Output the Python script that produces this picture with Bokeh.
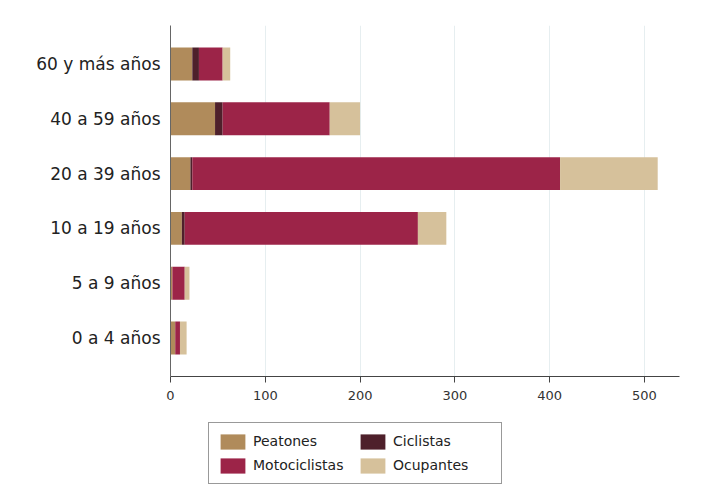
from bokeh.plotting import figure
from bokeh.layouts import column
from bokeh.models import FactorRange, Legend, LegendItem, SingleIntervalTicker, ColumnDataSource
from bokeh.embed import file_html
from bokeh.resources import INLINE

categories = ["0 a 4 años", "5 a 9 años", "10 a 19 años", "20 a 39 años", "40 a 59 años", "60 y más años"]
peatones = [5, 2, 12, 21, 47, 23]
ciclistas = [0, 0, 3, 2, 8, 7]
motociclistas = [5, 13, 246, 388, 113, 25]
ocupantes = [7, 5, 30, 103, 32, 8]

series = ["Peatones", "Ciclistas", "Motociclistas", "Ocupantes"]
colors = ["#B08B5B", "#4E202B", "#9C2448", "#D6C19B"]

FONT = "DejaVu Sans"

source = ColumnDataSource(dict(cat=categories, Peatones=peatones, Ciclistas=ciclistas,
                               Motociclistas=motociclistas, Ocupantes=ocupantes))

p = figure(frame_width=509, frame_height=351, output_backend="svg", toolbar_location=None,
           y_range=FactorRange(*categories, range_padding=0.067),
           x_range=(0, 537),
           min_border_left=170, min_border_right=24, min_border_top=25, min_border_bottom=45)

p.hbar_stack(series, y="cat", height=0.6, color=colors, source=source, line_color=None)

p.outline_line_color = None
p.ygrid.grid_line_color = None
p.xgrid.grid_line_color = "#E6EEF0"
p.xgrid.grid_line_width = 1

p.xaxis.ticker = SingleIntervalTicker(interval=100)
p.xaxis.minor_tick_line_color = None
p.xaxis.major_tick_out = 6
p.xaxis.major_tick_in = 0
p.xaxis.axis_line_color = "#444444"
p.xaxis.major_tick_line_color = "#444444"
p.xaxis.major_label_text_font = FONT
p.xaxis.major_label_text_font_size = "13px"
p.xaxis.major_label_text_color = "#333333"
p.xaxis.major_label_standoff = 8

p.yaxis.major_tick_line_color = None
p.yaxis.minor_tick_line_color = None
p.yaxis.axis_line_color = "#666666"
p.yaxis.major_label_text_font = FONT
p.yaxis.major_label_text_font_size = "17px"
p.yaxis.major_label_text_color = "#222222"
p.yaxis.major_label_standoff = 4

# legend-only figure below the chart (its zero-height bars sit outside the visible range)
lf = figure(width=703, height=81, output_backend="svg", toolbar_location=None,
            y_range=FactorRange(*categories), x_range=(5000, 5001),
            x_axis_location=None, y_axis_location=None,
            min_border_left=0, min_border_right=0, min_border_top=0, min_border_bottom=0)
lf.grid.grid_line_color = None
lf.outline_line_color = None
lrs = lf.hbar_stack(series, y="cat", height=0.0, color=colors, source=source, line_color=None)

order = [0, 2, 1, 3]  # column-first fill -> Peatones/Ciclistas on first row
items = [LegendItem(label=series[i], renderers=[lrs[i]]) for i in order]
legend = Legend(items=items, ncols=2, location=(38, 18),
                label_text_font=FONT, label_text_font_size="14px", label_text_color="#222222",
                glyph_width=31, glyph_height=19, label_height=20, label_width=100, spacing=4,
                padding=8, margin=0, border_line_color="#333333", border_line_width=1,
                label_standoff=5, background_fill_alpha=1)
lf.add_layout(legend, "center")

layout = column(p, lf, spacing=0)
open("out.html", "w").write(file_html(layout, INLINE))
